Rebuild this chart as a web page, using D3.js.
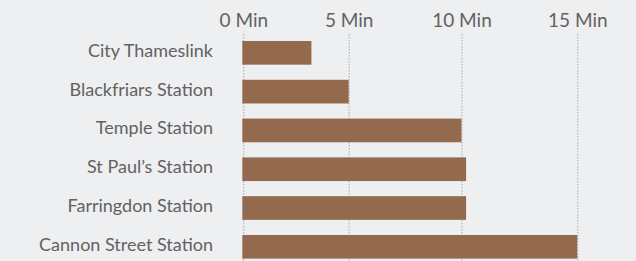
<!DOCTYPE html>
<html>
<head>
<meta charset="utf-8">
<script src="https://cdn.jsdelivr.net/npm/d3@7"></script>
<style>
  html, body { margin: 0; padding: 0; background: #eeeff1; }
  svg { display: block; }
  text { font-family: Lato, "Open Sans", sans-serif; fill: #626262; }
</style>
</head>
<body>
<svg id="chart" width="636" height="261"></svg>
<script>
const categories = ["City Thameslink", "Blackfriars Station", "Temple Station", "St Paul\u2019s Station", "Farringdon Station", "Cannon Street Station"];
const minutes = [3.3, 5, 10, 10.2, 10.2, 15];
const tickValues = [0, 5, 10, 15];
const tickUnit = " Min";

const W = 636, H = 261;
const svg = d3.select("#chart");
svg.append("rect").attr("width", W).attr("height", H).attr("fill", "#eeeff1");

const x = d3.scalePow().exponent(1.05).domain([0, 15]).range([243.3, 577.3]);
const y = d3.scaleBand().domain(categories).range([33.24, 266.4]).paddingInner(0.39).paddingOuter(0.2);

const axisTop = 34;
const ax = svg.append("g")
  .attr("transform", `translate(0,${axisTop})`)
  .call(d3.axisTop(x).tickValues(tickValues).tickFormat(d => d + tickUnit)
    .tickSize(-(H - axisTop)).tickPadding(7));
ax.select(".domain").remove();
ax.selectAll(".tick line").attr("stroke", "#a9a9a9").attr("stroke-dasharray", "1.5,1.5");
ax.selectAll(".tick text").attr("font-size", 19).attr("fill", "#626262")
  .style("font-family", "Lato, 'Open Sans', sans-serif");

svg.append("g").selectAll("rect").data(categories).join("rect")
  .attr("x", x(0) - 1)
  .attr("y", d => y(d))
  .attr("width", (d, i) => x(minutes[i]) - x(0) + 1)
  .attr("height", y.bandwidth())
  .attr("fill", "#946a4f");

svg.append("g").selectAll("text").data(categories).join("text")
  .attr("x", 213)
  .attr("y", d => y(d) + y.bandwidth() / 2 + 4)
  .attr("text-anchor", "end")
  .attr("font-size", 18)
  .text(d => d);
</script>
</body>
</html>
